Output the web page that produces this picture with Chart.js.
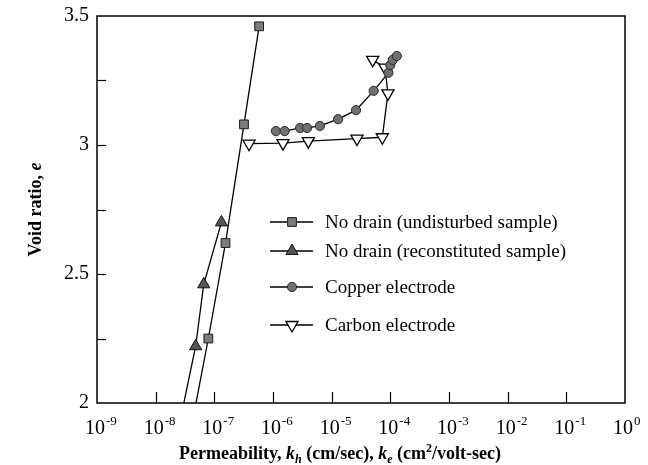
<!DOCTYPE html>
<html><head><meta charset="utf-8">
<script src="https://cdn.jsdelivr.net/npm/chart.js@4/dist/chart.umd.min.js"></script>
<style>html,body{margin:0;padding:0;background:#fff}#wrap{width:648px;height:465px;position:relative}</style>
</head><body><div id="wrap"><canvas id="c"></canvas></div>
<script>
// Permeability (cm/sec or cm2/volt-sec) and void ratio for each series
const undisturbedK = [5.8e-7, 3.2e-7, 1.55e-7, 7.9e-8, 3.5e-8];
const undisturbedE = [3.46, 3.08, 2.62, 2.25, 1.83];
const reconstitutedK = [1.32e-7, 6.6e-8, 4.8e-8, 2.4e-8];
const reconstitutedE = [2.70, 2.46, 2.22, 1.89];
const copperK = [1.12e-6, 1.58e-6, 2.9e-6, 3.8e-6, 6.3e-6, 1.29e-5, 2.6e-5, 5.2e-5, 9.3e-5, 1.0e-4, 1.1e-4, 1.29e-4];
const copperE = [3.054, 3.054, 3.066, 3.066, 3.074, 3.10, 3.135, 3.21, 3.28, 3.31, 3.33, 3.345];
const carbonK = [3.9e-7, 1.48e-6, 4.0e-6, 2.7e-5, 7.3e-5, 9.1e-5, 8.1e-5, 5.0e-5];
const carbonE = [3.005, 3.007, 3.015, 3.025, 3.03, 3.20, 3.30, 3.33];
const seriesNames = ['No drain (undisturbed sample)', 'No drain (reconstituted sample)', 'Copper electrode', 'Carbon electrode'];
const xTickExps = [-9, -8, -7, -6, -5, -4, -3, -2, -1, 0];
const yTickLabels = [2, 2.5, 3, 3.5];
const yMinorTicks = [2.25, 2.75, 3.25];

const pts = (k, e) => k.map((v, i) => ({x: v, y: e[i]}));
const SERIF = '"Liberation Serif", "Times New Roman", serif';

const styles = [
  {pointStyle: 'rect', radius: 6.2, rotation: 0, bg: '#7c7c7c', bc: '#1a1a1a', bw: 1},
  {pointStyle: 'triangle', radius: 7, rotation: 0, bg: '#555555', bc: '#111111', bw: 1},
  {pointStyle: 'circle', radius: 4.6, rotation: 0, bg: '#707070', bc: '#2a2a2a', bw: 1},
  {pointStyle: 'triangle', radius: 7, rotation: 180, bg: '#ffffff', bc: '#000000', bw: 1.3}
];
const dataSets = [pts(undisturbedK, undisturbedE), pts(reconstitutedK, reconstitutedE), pts(copperK, copperE), pts(carbonK, carbonE)];

function drawRich(ctx, segs, x, y, align) {
  let w = 0;
  segs.forEach(s => { ctx.font = s.font; s.w = ctx.measureText(s.t).width; w += s.w; });
  let cx = align === 'center' ? x - w / 2 : (align === 'right' ? x - w : x);
  segs.forEach(s => { ctx.font = s.font; ctx.fillText(s.t, cx, y + (s.dy || 0)); cx += s.w; });
}

const frame = {
  id: 'frame',
  afterDatasetsDraw(chart) {
    const {ctx, chartArea: a, scales: {x, y}} = chart;
    ctx.save();
    ctx.strokeStyle = '#000'; ctx.fillStyle = '#000';
    ctx.lineWidth = 1.5;
    ctx.strokeRect(a.left, a.top, a.right - a.left, a.bottom - a.top);
    ctx.lineWidth = 1.2;
    // x ticks (inward)
    xTickExps.forEach(p => {
      if (p === -9 || p === 0) return;
      const px = Math.round(x.getPixelForValue(Math.pow(10, p))) + 0.5;
      ctx.beginPath(); ctx.moveTo(px, a.bottom); ctx.lineTo(px, a.bottom - 11); ctx.stroke();
    });
    // y ticks (inward)
    yTickLabels.concat(yMinorTicks).forEach(v => {
      if (v === 2 || v === 3.5) return;
      const py = Math.round(y.getPixelForValue(v)) + 0.5;
      ctx.beginPath(); ctx.moveTo(a.left, py); ctx.lineTo(a.left + 9, py); ctx.stroke();
    });
    // y tick labels
    ctx.textBaseline = 'middle'; ctx.textAlign = 'right';
    ctx.font = '20px ' + SERIF;
    yTickLabels.forEach(v => ctx.fillText(String(v), a.left - 8, y.getPixelForValue(v)));
    // x tick labels 10^n
    ctx.textBaseline = 'alphabetic'; ctx.textAlign = 'left';
    xTickExps.forEach(p => {
      const px = x.getPixelForValue(Math.pow(10, p));
      ctx.font = '20px ' + SERIF;
      const w10 = ctx.measureText('10').width;
      ctx.fillText('10', px - w10 / 2 - 2, a.bottom + 31);
      ctx.font = '13px ' + SERIF;
      ctx.fillText(String(p).replace('-', '-'), px + w10 / 2 - 1, a.bottom + 22);
    });
    // axis titles
    const B = 'bold 18px ' + SERIF, BI = 'italic bold 18px ' + SERIF, BIs = 'italic bold 12px ' + SERIF, Bs = 'bold 12px ' + SERIF;
    drawRich(ctx, [
      {t: 'Permeability, ', font: B}, {t: 'k', font: BI}, {t: 'h', font: BIs, dy: 4},
      {t: ' (cm/sec), ', font: B}, {t: 'k', font: BI}, {t: 'e', font: BIs, dy: 4},
      {t: ' (cm', font: B}, {t: '2', font: Bs, dy: -7}, {t: '/volt-sec)', font: B}
    ], 340, a.bottom + 56, 'center');
    ctx.save();
    ctx.translate(36, (a.top + a.bottom) / 2);
    ctx.rotate(-Math.PI / 2);
    ctx.textBaseline = 'middle';
    drawRich(ctx, [{t: 'Void ratio, ', font: B}, {t: 'e', font: BI}], 0, 0, 'center');
    ctx.restore();
    // legend
    const rows = [222, 251, 287, 325];
    ctx.textBaseline = 'middle'; ctx.textAlign = 'left';
    seriesNames.forEach((name, i) => {
      const st = styles[i], ry = rows[i];
      ctx.strokeStyle = '#000'; ctx.lineWidth = 1.3;
      ctx.beginPath(); ctx.moveTo(270, ry); ctx.lineTo(313, ry); ctx.stroke();
      ctx.fillStyle = st.bg; ctx.strokeStyle = st.bc; ctx.lineWidth = st.bw;
      Chart.helpers.drawPoint(ctx, {pointStyle: st.pointStyle, radius: st.radius, rotation: st.rotation, borderWidth: st.bw}, 292, ry);
      ctx.fillStyle = '#000';
      ctx.font = '19px ' + SERIF;
      ctx.fillText(name, 325, ry + 1);
    });
    ctx.restore();
  }
};

new Chart(document.getElementById('c'), {
  type: 'scatter',
  data: {
    datasets: dataSets.map((d, i) => ({
      label: seriesNames[i],
      data: d,
      showLine: true,
      borderColor: '#000',
      borderWidth: 1.3,
      pointStyle: styles[i].pointStyle,
      pointRadius: styles[i].radius,
      pointRotation: styles[i].rotation,
      pointBackgroundColor: styles[i].bg,
      pointBorderColor: styles[i].bc,
      pointBorderWidth: styles[i].bw,
      tension: 0
    }))
  },
  options: {
    responsive: true,
    maintainAspectRatio: false,
    animation: false,
    layout: {padding: {left: 97, right: 23, top: 16, bottom: 62}},
    plugins: {legend: {display: false}, tooltip: {enabled: false}},
    scales: {
      x: {type: 'logarithmic', min: 1e-9, max: 1, display: false},
      y: {type: 'linear', min: 2, max: 3.5, display: false}
    }
  },
  plugins: [frame]
});
</script>
</body></html>
